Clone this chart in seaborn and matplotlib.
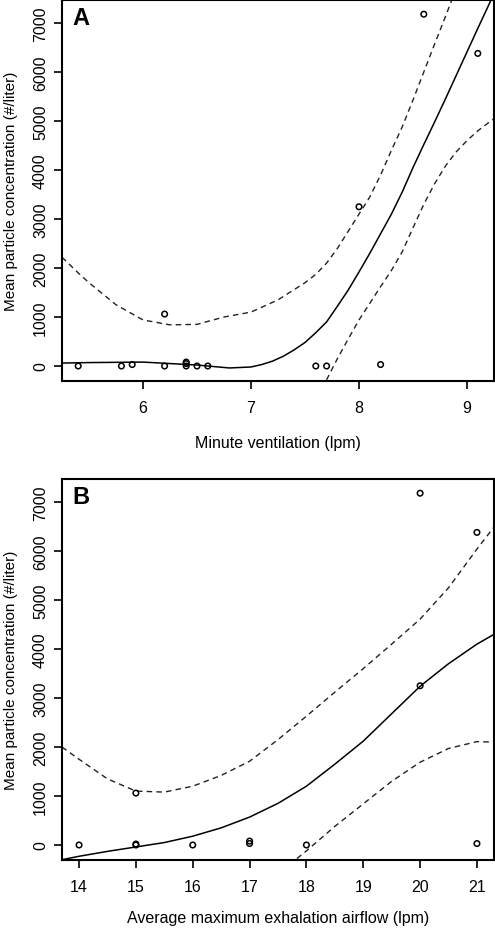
import numpy as np
import pandas as pd
import seaborn as sns
import matplotlib.pyplot as plt

# Panel A: minute ventilation vs particle concentration
vent_x = [5.4, 5.8, 5.9, 6.2, 6.2, 6.4, 6.4, 6.4, 6.5, 6.6, 7.6, 7.7, 8.0, 8.2, 8.6, 9.1]
vent_y = [0, 0, 30, 1060, 0, 0, 50, 80, 0, 0, 0, 0, 3250, 30, 7180, 6380]

# smooth fit and confidence band
vent_fit_x = [5.25, 5.5, 6.0, 6.5, 6.8, 7.0, 7.1, 7.2, 7.3, 7.4, 7.5, 7.6, 7.7, 7.8, 7.9,
              8.0, 8.1, 8.2, 8.3, 8.4, 8.5, 8.6, 8.7, 8.8, 8.9, 9.0, 9.1, 9.25]
vent_fit_y = [60, 70, 80, 20, -40, -20, 30, 100, 200, 330, 480, 680, 900, 1220, 1550,
              1920, 2300, 2700, 3100, 3550, 4050, 4520, 4980, 5450, 5930, 6410, 6890, 7600]
vent_up_x = [5.25, 5.4, 5.5, 5.75, 6.0, 6.25, 6.5, 6.75, 7.0, 7.25, 7.5, 7.6, 7.7, 7.8, 7.9,
             8.0, 8.1, 8.2, 8.3, 8.4, 8.5, 8.6, 8.7, 8.8, 8.9]
vent_up_y = [2220, 1900, 1700, 1250, 940, 840, 850, 1000, 1100, 1350, 1700, 1870, 2100, 2400, 2750,
             3100, 3450, 3900, 4400, 4880, 5430, 6000, 6570, 7130, 7700]
vent_lo_x = [7.65, 7.7, 7.8, 7.9, 8.0, 8.1, 8.2, 8.3, 8.4, 8.5, 8.6, 8.7, 8.8, 8.9, 9.0, 9.1, 9.25]
vent_lo_y = [-450, -280, 150, 550, 940, 1280, 1620, 1950, 2330, 2820, 3300, 3720, 4080, 4370,
             4600, 4800, 5050]

# Panel B: average maximum exhalation airflow vs particle concentration
flow_x = [14, 15, 15, 15, 16, 17, 17, 18, 20, 20, 21, 21]
flow_y = [0, 0, 20, 1060, 0, 30, 80, 0, 3250, 7180, 6380, 30]

flow_fit_x = [13.7, 14, 14.5, 15, 15.5, 16, 16.5, 17, 17.5, 18, 18.5, 19, 19.5, 20, 20.5, 21, 21.3]
flow_fit_y = [-300, -230, -130, -40, 50, 180, 350, 570, 850, 1200, 1650, 2120, 2680, 3240, 3700, 4100, 4300]
flow_up_y = [2000, 1750, 1350, 1100, 1080, 1200, 1420, 1710, 2150, 2630, 3120, 3600, 4100, 4610, 5250, 6040, 6490]
flow_lo_x = [17.7, 18, 18.5, 19, 19.5, 20, 20.5, 21, 21.3]
flow_lo_y = [-400, -120, 380, 840, 1300, 1690, 1970, 2110, 2100]

y_ticks = [0, 1000, 2000, 3000, 4000, 5000, 6000, 7000]
ylabel = 'Mean particle concentration (#/liter)'

sns.set_style('ticks')
plt.rcParams['font.family'] = ['Liberation Sans', 'DejaVu Sans']
plt.rcParams['text.color'] = 'black'
plt.rcParams['axes.labelcolor'] = 'black'
plt.rcParams['xtick.color'] = 'black'
plt.rcParams['ytick.color'] = 'black'

fig = plt.figure(figsize=(4.95, 9.29), dpi=100)
W, H = 495, 929
axA = fig.add_axes([62 / W, 1 - 382 / H, 432 / W, 381 / H])
axB = fig.add_axes([62 / W, 1 - 861 / H, 432 / W, 381 / H])

dash = (0, (4, 3))


def draw_panel(ax, px, py, fx, fy, ux, uy, lx, ly, xlim, xticks, xlabel, letter, xlab_y):
    sns.lineplot(x=fx, y=fy, ax=ax, color='black', lw=1.1, sort=False)
    sns.lineplot(x=ux, y=uy, ax=ax, color='#222222', lw=1.0, linestyle=dash, sort=False)
    sns.lineplot(x=lx, y=ly, ax=ax, color='#222222', lw=1.0, linestyle=dash, sort=False)
    sns.scatterplot(x=px, y=py, ax=ax, marker='o', s=16, facecolors='none',
                    edgecolors='black', linewidths=1.1, zorder=5)
    ax.set_xlim(*xlim)
    ax.set_ylim(-306, 7470)
    ax.set_xticks(xticks)
    ax.set_yticks(y_ticks)
    for s in ax.spines.values():
        s.set_linewidth(1.5)
        s.set_color('black')
        s.set_visible(True)
    ax.tick_params(axis='both', length=6, width=1.2, color='black', labelcolor='black',
                   labelsize=11.5)
    ax.tick_params(axis='x', pad=8)
    ax.tick_params(axis='y', pad=4, labelrotation=90)
    for t in ax.get_yticklabels():
        t.set_va('center')
    ax.set_xlabel(xlabel, fontsize=11.5, color='black')
    ax.set_ylabel(ylabel, fontsize=11, color='black')
    ax.xaxis.set_label_coords(0.5, xlab_y)
    ax.yaxis.set_label_coords(-0.103, 0.5)
    ax.text(0.025, 0.985, letter, transform=ax.transAxes, ha='left', va='top',
            fontsize=17, fontweight='bold', color='black')


draw_panel(axA, vent_x, vent_y, vent_fit_x, vent_fit_y, vent_up_x, vent_up_y,
           vent_lo_x, vent_lo_y, (5.25, 9.25), [6, 7, 8, 9], 'Minute ventilation (lpm)', 'A', -0.142)
draw_panel(axB, flow_x, flow_y, flow_fit_x, flow_fit_y, flow_fit_x, flow_up_y,
           flow_lo_x, flow_lo_y, (13.7, 21.3), [14, 15, 16, 17, 18, 19, 20, 21],
           'Average maximum exhalation airflow (lpm)', 'B', -0.132)

fig.savefig('out.png', dpi=100, facecolor='white')
